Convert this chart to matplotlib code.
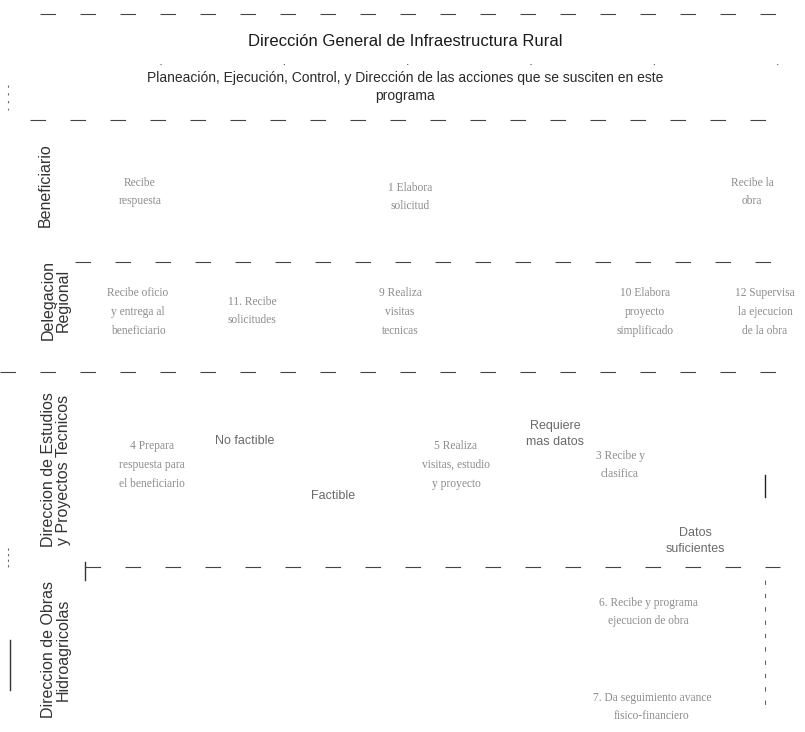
import matplotlib
matplotlib.use("Agg")
import matplotlib.pyplot as plt

# lane titles (rotated, left side)
lanes = ["Beneficiario", "Delegacion\nRegional",
         "Direccion de Estudios\ny Proyectos Tecnicos",
         "Direccion de Obras\nHidroagricolas"]
lane_y = [185, 300, 470, 650]
lane_x = [45, 56, 56, 56]

# separator lines between the lanes (y, x start, x end)
sep_y = [14, 120, 262, 372, 567]
sep_x0 = [40, 30, 75, 0, 85]
sep_x1 = [785, 785, 785, 785, 780]

# activity boxes (text only, the boxes are lost in the scan)
steps = ["Recibe\nrespuesta", "1 Elabora\nsolicitud", "Recibe la\nobra",
         "Recibe oficio\ny entrega al\nbeneficiario", "11. Recibe\nsolicitudes",
         "9 Realiza\nvisitas\ntecnicas", "10 Elabora\nproyecto\nsimplificado",
         "12 Supervisa\nla ejecucion\nde la obra",
         "4 Prepara\nrespuesta para\nel beneficiario",
         "5 Realiza\nvisitas, estudio\ny proyecto", "3 Recibe y\nclasifica",
         "6. Recibe y programa\nejecucion de obra",
         "7. Da seguimiento avance\nfisico-financiero"]
step_x = [140, 410, 752, 138, 252, 400, 645, 765, 152, 456, 620, 648, 652]
step_y = [192, 197, 192, 312, 311, 312, 312, 312, 465, 465, 465, 612, 707]

# decision labels
conds = ["No factible", "Factible", "Requiere\nmas datos", "Datos\nsuficientes"]
cond_x = [245, 333, 555, 695]
cond_y = [441, 496, 434, 541]

fig = plt.figure(figsize=(8.05, 7.32), dpi=100)
ax = fig.add_axes([0, 0, 1, 1])
ax.set_xlim(0, 805)
ax.set_ylim(732, 0)
ax.axis("off")

for y, a, b in zip(sep_y, sep_x0, sep_x1):
    ax.plot([a, b], [y, y], color="#444444", lw=0.8, ls=(0, (14, 22)))
ax.plot([160, 800], [64, 64], color="#555555", lw=0.8, ls=(0, (1, 110)))

ax.text(405, 42, "Dirección General de Infraestructura Rural", ha="center", va="center",
        fontsize=12, family="Liberation Sans", color="#1a1a1a")
ax.text(405, 87, "Planeación, Ejecución, Control, y Dirección de las acciones que se susciten en este\nprograma",
        ha="center", va="center", fontsize=10, family="Liberation Sans", color="#2a2a2a",
        linespacing=1.45)

for name, x, y in zip(lanes, lane_x, lane_y):
    ax.text(x, y, name, rotation=90, ha="center", va="center", fontsize=11.5,
            family="Liberation Sans", color="#333333", linespacing=1.0)

for s, x, y in zip(steps, step_x, step_y):
    ax.text(x, y, s, ha="center", va="center", fontsize=8.3,
            family="Liberation Serif", color="#8c8c8c", linespacing=1.75)

for s, x, y in zip(conds, cond_x, cond_y):
    ax.text(x, y, s, ha="center", va="center", fontsize=9,
            family="Liberation Sans", color="#6a6a6a", linespacing=1.5)

# stray connector fragments
ax.plot([765, 765], [475, 497], color="#222222", lw=1)
ax.plot([85, 85], [562, 580], color="#333333", lw=1)
ax.plot([10, 10], [640, 690], color="#333333", lw=1)
ax.plot([765, 765], [580, 705], color="#666666", lw=0.8, ls=(0, (4, 8)))
ax.plot([8, 8], [548, 568], color="#666666", lw=0.8, ls=(0, (2, 3)))
ax.plot([8, 8], [85, 110], color="#666666", lw=0.8, ls=(0, (2, 5)))

fig.savefig("out.png", dpi=100, facecolor="white")
